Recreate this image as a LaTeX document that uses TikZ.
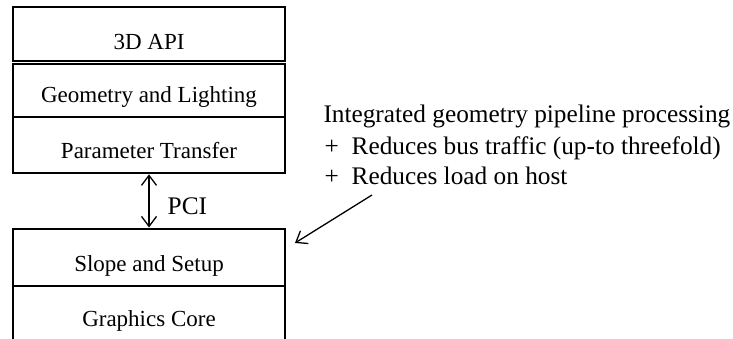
\documentclass[tikz,border=0pt]{standalone}
\usepackage{fontspec}
\setmainfont{Liberation Serif}
\usetikzlibrary{arrows.meta}
\begin{document}
\begin{tikzpicture}[x=1pt,y=-1pt,
  txt/.style={font=\fontsize{23}{28}\selectfont},
  bigtxt/.style={font=\fontsize{25.3}{30}\selectfont},
  box/.style={txt,draw,line width=2pt,inner sep=0pt,minimum width=272pt},
  openbox/.style={txt,inner sep=0pt,minimum width=272pt},
  lbl/.style={bigtxt,inner sep=0pt,anchor=base west},
  barb/.tip={Straight Barb[length=10pt,width=15pt]},
  dblarr/.style={line width=1.3pt,barb-barb},
  arr/.style={line width=1.3pt,-barb}]
\useasboundingbox (0,0) rectangle (733,339);
% left stack
\node[box,anchor=base,text height=41.8pt,text depth=11.7pt] (api) at (149,49.3) {3D API};
\node[box,anchor=base,text height=39.1pt,text depth=14.3pt] (geo) at (149,102.7) {Geometry and Lighting};
\node[box,anchor=base,text height=41.3pt,text depth=15pt] (par) at (149,158.3) {Parameter Transfer};
\node[box,anchor=base,text height=43.2pt,text depth=13.8pt] (slope) at (149,271.7) {Slope and Setup};
\node[openbox,anchor=base,text height=41pt,text depth=12.5pt] (core) at (149,326.5) {Graphics Core};
\draw[line width=2pt] (core.north west) -- (core.south west);
\draw[line width=2pt] (core.north east) -- (core.south east);
% PCI link
\draw[dblarr] (par.south) -- (slope.north);
\node[lbl] (pci) at (167.5,214.5) {PCI};
% annotation
\node[lbl] (t1) at (323.3,122.7) {Integrated geometry pipeline processing};
\node[lbl] (p2) at (324.5,155) {+};
\node[lbl] (t2) at (351.5,155) {Reduces bus traffic (up-to threefold)};
\node[lbl] (p3) at (324.5,185) {+};
\node[lbl] (t3) at (351.5,185) {Reduces load on host};
\coordinate (as) at (372,195);
\coordinate (ae) at (295,243);
\draw[arr] (as) -- (ae);
\end{tikzpicture}
\end{document}
